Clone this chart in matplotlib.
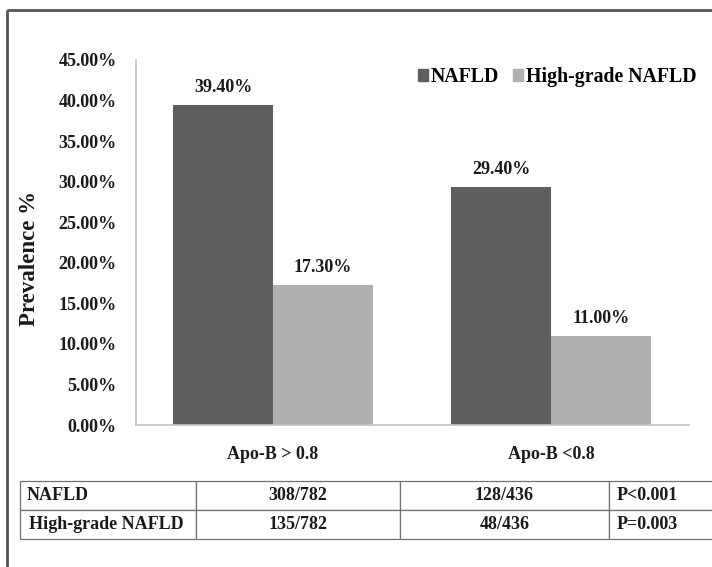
import numpy as np
import matplotlib
matplotlib.use('Agg')
import matplotlib.pyplot as plt
from matplotlib.patches import Patch, Rectangle
from matplotlib.ticker import FuncFormatter

plt.rcParams['font.family'] = 'Liberation Serif'
plt.rcParams['font.weight'] = 'bold'
plt.rcParams['axes.labelweight'] = 'bold'

# data
groups = ['Apo-B > 0.8', 'Apo-B <0.8']
nafld = [39.4, 29.4]
high_grade = [17.3, 11.0]
series_names = ['NAFLD', 'High-grade NAFLD']
yticks = np.arange(0, 46, 5)

table_rows = ['NAFLD', 'High-grade NAFLD']
table_counts = [['308/782', '128/436'], ['135/782', '48/436']]
table_p = ['P<0.001', 'P=0.003']

c_dark = '#5f5f5f'
c_light = '#b0b0b0'
txt = '#1a1a1a'

fig = plt.figure(figsize=(7.12, 5.67), dpi=100)

# frame around the whole panel
bg = fig.add_axes([0, 0, 1, 1])
bg.set_xlim(0, 712)
bg.set_ylim(567, 0)
bg.axis('off')
bg.add_patch(Rectangle((7, 10), 720, 580, fill=False, edgecolor='#555555', lw=2))

ax = fig.add_axes([136/712, 1-425/567, 553/712, 365/567])
x = np.arange(len(groups))
w = 0.36
b1 = ax.bar(x - w/2, nafld, w, color=c_dark, label=series_names[0])
b2 = ax.bar(x + w/2, high_grade, w, color=c_light, label=series_names[1])

for bars, vals in [(b1, nafld), (b2, high_grade)]:
    for r, v in zip(bars, vals):
        ax.annotate('%.2f%%' % v, (r.get_x() + r.get_width()/2, v),
                    xytext=(0, 6.5), textcoords='offset points',
                    ha='center', va='bottom', fontsize=13, color=txt)

ax.set_xlim(-0.493, 1.496)
ax.set_ylim(0, 45)
ax.set_yticks(yticks)
ax.yaxis.set_major_formatter(FuncFormatter(lambda v, p: '%.2f%%' % v))
ax.set_xticks(x)
ax.set_xticklabels(groups)
ax.tick_params(axis='y', length=0, pad=14, labelsize=13, labelcolor=txt)
ax.tick_params(axis='x', length=0, pad=15, labelsize=13, labelcolor=txt)
for s in ['top', 'right']:
    ax.spines[s].set_visible(False)
for s in ['left', 'bottom']:
    ax.spines[s].set_color('#c4c4c4')
    ax.spines[s].set_linewidth(1.2)
ax.set_ylabel('Prevalence %', fontsize=16.5, fontweight='bold', color=txt)
ax.yaxis.set_label_coords(-0.1736, 0.4575)

handles = [Patch(color=c_dark), Patch(color=c_light)]
ax.legend(handles, series_names, ncol=2, frameon=False, fontsize=14.3,
          loc='center left', bbox_to_anchor=(418/712, 1-77/567),
          bbox_transform=fig.transFigure, handlelength=0.5, handleheight=0.5,
          handletextpad=0.15, columnspacing=0.7, borderaxespad=0, borderpad=0)

# counts table under the chart
cells = [[table_rows[i], table_counts[i][0], table_counts[i][1], table_p[i]]
         for i in range(len(table_rows))]
col_w = np.array([176, 204, 209, 110])
tab = bg.table(cellText=cells, colWidths=col_w/712,
               bbox=[20/712, 1-539/567, col_w.sum()/712, 58/567],
               transform=fig.transFigure)
tab.auto_set_font_size(False)
for (r, c), cell in tab.get_celld().items():
    cell.set_edgecolor('#707070')
    cell.set_linewidth(0.9)
    t = cell.get_text()
    t.set_fontsize(13)
    t.set_fontweight('bold')
    t.set_color(txt)
    if c == 0:
        t.set_ha('left')
        cell.PAD = 0.035 if r == 0 else 0.05
    elif c == 3:
        t.set_ha('left')
        cell.PAD = 0.07
    else:
        t.set_ha('center')

fig.savefig('out.png', dpi=100)
